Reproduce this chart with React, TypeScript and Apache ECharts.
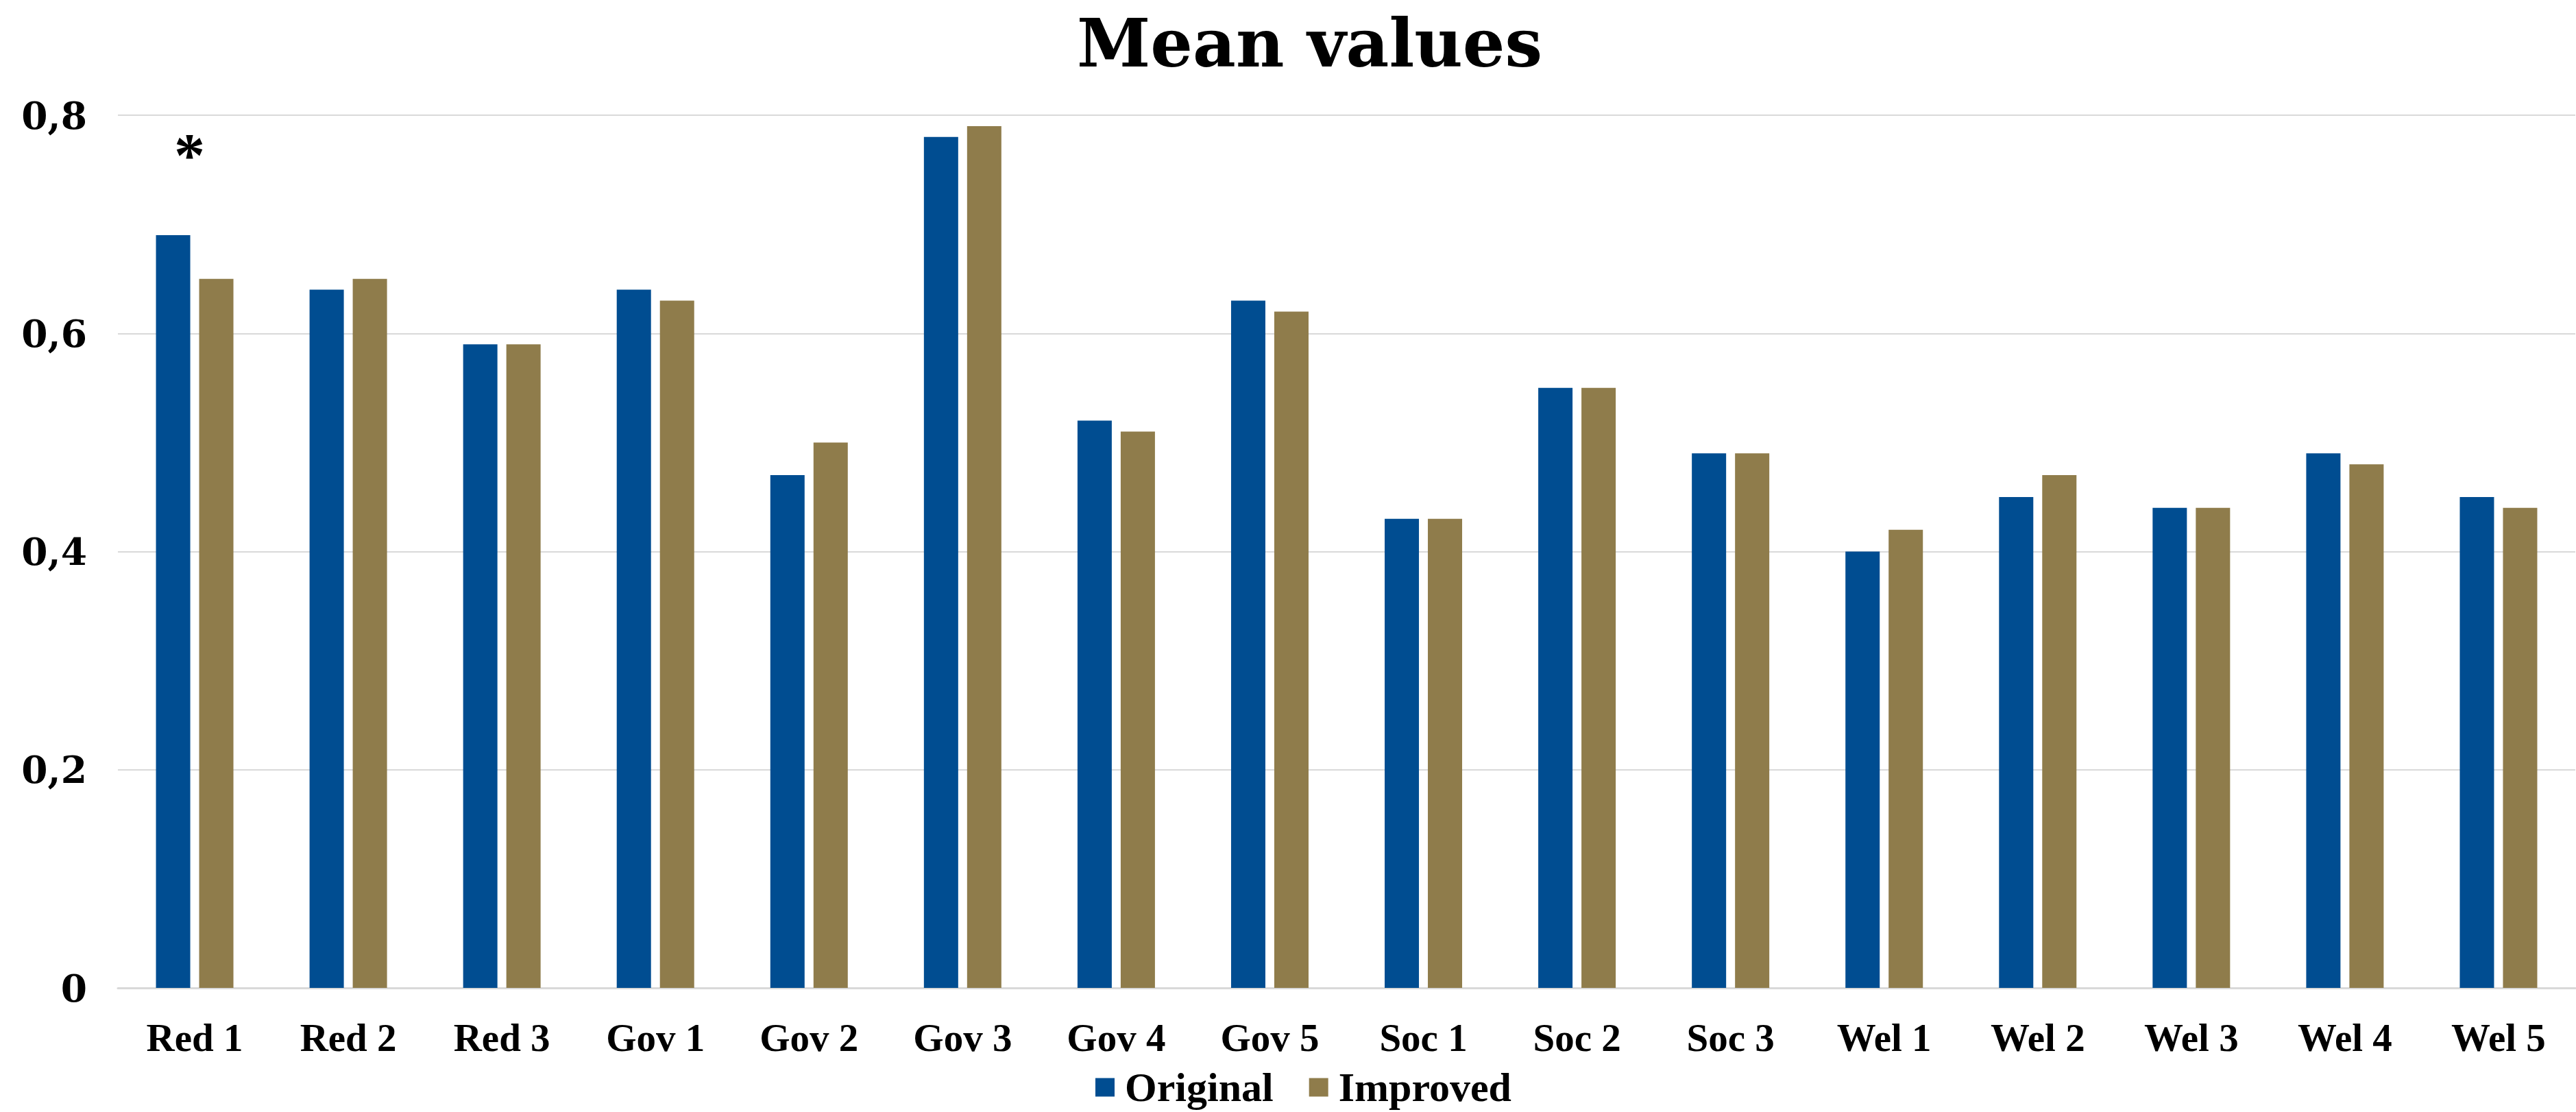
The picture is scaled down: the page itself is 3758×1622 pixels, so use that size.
import React, { useEffect, useRef } from "react";
import * as echarts from "echarts";

// Item labels along the category axis
const categories = [
  "Red 1", "Red 2", "Red 3",
  "Gov 1", "Gov 2", "Gov 3", "Gov 4", "Gov 5",
  "Soc 1", "Soc 2", "Soc 3",
  "Wel 1", "Wel 2", "Wel 3", "Wel 4", "Wel 5",
];

// Mean value per item, original wording
const originalValues = [
  0.69, 0.64, 0.59,
  0.64, 0.47, 0.78, 0.52, 0.63,
  0.43, 0.55, 0.49,
  0.40, 0.45, 0.44, 0.49, 0.45,
];

// Mean value per item, improved wording
const improvedValues = [
  0.65, 0.65, 0.59,
  0.63, 0.50, 0.79, 0.51, 0.62,
  0.43, 0.55, 0.49,
  0.42, 0.47, 0.44, 0.48, 0.44,
];

const seriesNames = ["Original", "Improved"];

// Significance marker above the first item
const markerCategory = "Red 1";
const markerLevel = 0.772;
const markerText = "*";

const W = 3758;
const H = 1622;

const BLUE = "#004D91";
const GOLD = "#8F7C4B";
const GRID = "#D9D9D9";

export default function App() {
  const ref = useRef<HTMLDivElement | null>(null);

  useEffect(() => {
    if (!ref.current) return;
    const chart = echarts.init(ref.current, null, { renderer: "svg", width: W, height: H });

    const option = {
      animation: false,
      backgroundColor: "#FFFFFF",
      title: {
        text: "Mean values",
        left: 1566,
        top: 9,
        textStyle: {
          fontFamily: "DejaVu Serif",
          fontWeight: "bold",
          fontSize: 97,
          color: "#000000",
        },
      },
      legend: {
        data: seriesNames,
        left: 1598,
        top: 1556,
        padding: 0,
        itemWidth: 28,
        itemHeight: 27,
        itemGap: 52,
        icon: "rect",
        textStyle: {
          fontFamily: "Liberation Serif",
          fontWeight: "bold",
          fontSize: 60,
          lineHeight: 56,
          color: "#000000",
          padding: [0, 0, 0, 10],
        },
      },
      grid: {
        left: 172,
        right: 1,
        top: 168,
        bottom: 181,
        containLabel: false,
      },
      xAxis: {
        type: "category",
        data: categories,
        axisTick: { show: false },
        axisLine: { show: true, lineStyle: { color: GRID, width: 3 } },
        axisLabel: {
          margin: 44,
          fontFamily: "Liberation Serif",
          fontWeight: "bold",
          fontSize: 57,
          color: "#000000",
        },
      },
      yAxis: {
        type: "value",
        min: 0,
        max: 0.8,
        interval: 0.2,
        axisLine: { show: false },
        axisTick: { show: false },
        splitLine: { lineStyle: { color: GRID, width: 2 } },
        axisLabel: {
          margin: 45,
          fontFamily: "DejaVu Serif",
          fontWeight: "bold",
          fontSize: 55,
          color: "#000000",
          formatter: (v: number) => (v === 0 ? "0" : v.toFixed(1).replace(".", ",")),
        },
      },
      series: [
        {
          name: seriesNames[0],
          type: "bar",
          data: originalValues,
          barWidth: 50,
          barGap: "26%",
          itemStyle: { color: BLUE },
          markPoint: {
            symbol: "circle",
            symbolSize: 0,
            data: [{ coord: [markerCategory, markerLevel] }],
            label: {
              show: true,
              position: "inside",
              formatter: markerText,
              offset: [24, 14],
              fontFamily: "Liberation Serif",
              fontWeight: "bold",
              fontSize: 90,
              color: "#000000",
            },
          },
        },
        {
          name: seriesNames[1],
          type: "bar",
          data: improvedValues,
          barWidth: 50,
          barGap: "26%",
          itemStyle: { color: GOLD },
        },
      ],
    };

    chart.setOption(option);
    return () => chart.dispose();
  }, []);

  return (
    <div
      ref={ref}
      style={{ position: "fixed", left: 0, top: 0, width: W, height: H, background: "#FFFFFF" }}
    />
  );
}
